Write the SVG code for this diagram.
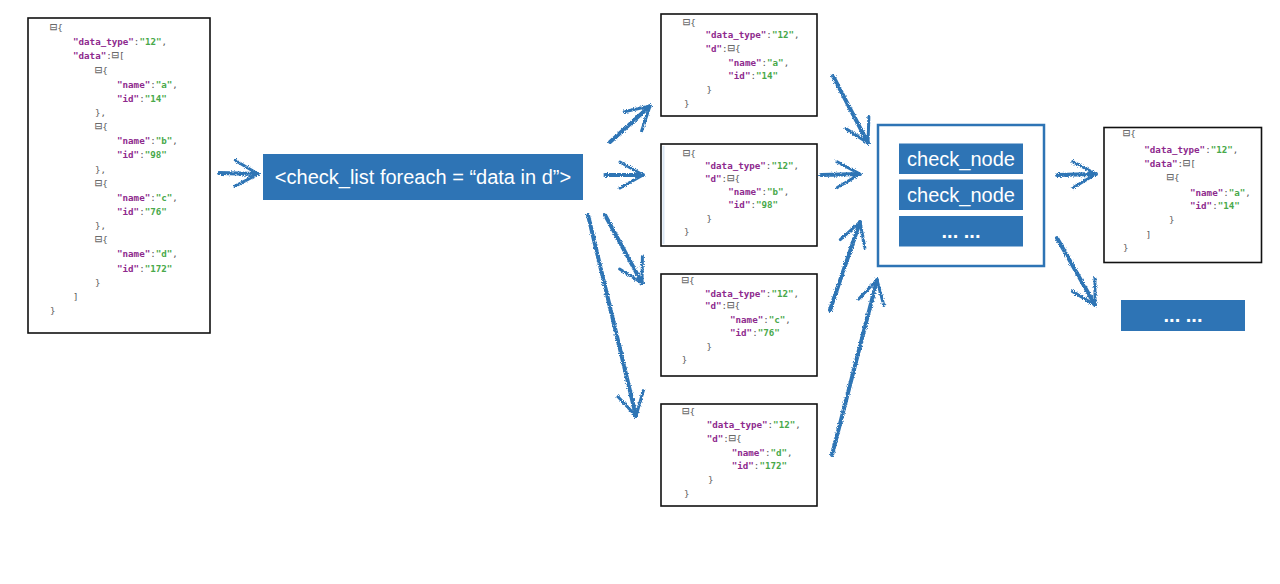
<svg xmlns="http://www.w3.org/2000/svg" width="1280" height="584" viewBox="0 0 1280 584">
<style>
.json{font-family:"DejaVu Sans Mono","Liberation Mono",monospace;font-size:9.2px;fill:#5a5a5a}
.k{fill:#8e2a8e;font-weight:bold}
.v{fill:#49a94b;font-weight:bold}
.m{font-size:12px;fill:#6a6a6a}
.doc{fill:#fff;stroke:#111;stroke-width:1.6}
.blue{fill:#2e74b5}
.lbl{font-family:"Liberation Sans",Arial,sans-serif;font-size:20px;fill:#fff;text-anchor:middle}
.con line{stroke:#2e74b5;stroke-width:4;fill:none;marker-end:url(#ah);stroke-linecap:round}
</style>
<defs>
<marker id="ah" markerUnits="userSpaceOnUse" viewBox="-28 -16 32 32" markerWidth="32" markerHeight="32" refX="0" refY="0" orient="auto">
<path d="M -23 -13 L 0 0 L -23 13" fill="none" stroke="#2e74b5" stroke-width="3" stroke-linecap="round" stroke-linejoin="round"/>
</marker>
<filter id="rough" filterUnits="userSpaceOnUse" x="0" y="0" width="1280" height="584">
<feTurbulence type="fractalNoise" baseFrequency="0.9" numOctaves="2" result="n"/>
<feDisplacementMap in="SourceGraphic" in2="n" scale="3.5" xChannelSelector="R" yChannelSelector="G"/>
</filter>
</defs>
<rect width="1280" height="584" fill="#fff"/>

<g id="src">
<rect class="doc" x="28" y="18" width="182" height="315"/>
<g class="json">
<text x="50" y="31"><tspan class="m">⊟</tspan>{</text>
<text x="73" y="45.2"><tspan class="k">"data_type"</tspan>:<tspan class="v">"12"</tspan>,</text>
<text x="73" y="59.3"><tspan class="k">"data"</tspan>:<tspan class="m">⊟</tspan>[</text>
<text x="95" y="73.5"><tspan class="m">⊟</tspan>{</text>
<text x="117" y="87.6"><tspan class="k">"name"</tspan>:<tspan class="v">"a"</tspan>,</text>
<text x="117" y="101.8"><tspan class="k">"id"</tspan>:<tspan class="v">"14"</tspan></text>
<text x="95" y="115.9">},</text>
<text x="95" y="130.1"><tspan class="m">⊟</tspan>{</text>
<text x="117" y="144.2"><tspan class="k">"name"</tspan>:<tspan class="v">"b"</tspan>,</text>
<text x="117" y="158.4"><tspan class="k">"id"</tspan>:<tspan class="v">"98"</tspan></text>
<text x="95" y="172.5">},</text>
<text x="95" y="186.7"><tspan class="m">⊟</tspan>{</text>
<text x="117" y="200.8"><tspan class="k">"name"</tspan>:<tspan class="v">"c"</tspan>,</text>
<text x="117" y="215"><tspan class="k">"id"</tspan>:<tspan class="v">"76"</tspan></text>
<text x="95" y="229.1">},</text>
<text x="95" y="243.3"><tspan class="m">⊟</tspan>{</text>
<text x="117" y="257.4"><tspan class="k">"name"</tspan>:<tspan class="v">"d"</tspan>,</text>
<text x="117" y="271.6"><tspan class="k">"id"</tspan>:<tspan class="v">"172"</tspan></text>
<text x="95" y="285.7">}</text>
<text x="73" y="299.9">]</text>
<text x="50" y="314">}</text>
</g>
</g>

<g id="foreach">
<rect class="blue" x="263" y="154" width="320" height="46"/>
<text class="lbl" x="423" y="184">&lt;check_list foreach = “data in d”&gt;</text>
</g>

<g id="item-a">
<rect class="doc" x="661" y="14" width="156" height="102"/>
<g class="json">
<text x="683" y="25.5"><tspan class="m">⊟</tspan>{</text>
<text x="705.5" y="38.3"><tspan class="k">"data_type"</tspan>:<tspan class="v">"12"</tspan>,</text>
<text x="705.5" y="52"><tspan class="k">"d"</tspan>:<tspan class="m">⊟</tspan>{</text>
<text x="728.3" y="65.7"><tspan class="k">"name"</tspan>:<tspan class="v">"a"</tspan>,</text>
<text x="728.3" y="79.3"><tspan class="k">"id"</tspan>:<tspan class="v">"14"</tspan></text>
<text x="706.5" y="93">}</text>
<text x="684" y="106.8">}</text>
</g>
</g>

<g id="item-b">
<rect class="doc" x="661" y="144" width="156" height="102"/>
<line x1="663.5" y1="146" x2="663.5" y2="244" stroke="#dbe7f4" stroke-width="2"/>
<g class="json">
<text x="683" y="157"><tspan class="m">⊟</tspan>{</text>
<text x="705" y="168.5"><tspan class="k">"data_type"</tspan>:<tspan class="v">"12"</tspan>,</text>
<text x="705" y="181.5"><tspan class="k">"d"</tspan>:<tspan class="m">⊟</tspan>{</text>
<text x="728.3" y="195"><tspan class="k">"name"</tspan>:<tspan class="v">"b"</tspan>,</text>
<text x="728.3" y="208.3"><tspan class="k">"id"</tspan>:<tspan class="v">"98"</tspan></text>
<text x="706.5" y="221.5">}</text>
<text x="684" y="235">}</text>
</g>
</g>

<g id="item-c">
<rect class="doc" x="661" y="274" width="156" height="102"/>
<g class="json">
<text x="681.7" y="283.5"><tspan class="m">⊟</tspan>{</text>
<text x="705" y="296.5"><tspan class="k">"data_type"</tspan>:<tspan class="v">"12"</tspan>,</text>
<text x="705" y="309.3"><tspan class="k">"d"</tspan>:<tspan class="m">⊟</tspan>{</text>
<text x="730" y="323"><tspan class="k">"name"</tspan>:<tspan class="v">"c"</tspan>,</text>
<text x="730" y="336"><tspan class="k">"id"</tspan>:<tspan class="v">"76"</tspan></text>
<text x="706.5" y="350">}</text>
<text x="681.7" y="362.5">}</text>
</g>
</g>

<g id="item-d">
<rect class="doc" x="661" y="404" width="156" height="102"/>
<g class="json">
<text x="682.3" y="415"><tspan class="m">⊟</tspan>{</text>
<text x="706.7" y="428.3"><tspan class="k">"data_type"</tspan>:<tspan class="v">"12"</tspan>,</text>
<text x="706.7" y="441.5"><tspan class="k">"d"</tspan>:<tspan class="m">⊟</tspan>{</text>
<text x="731.7" y="456"><tspan class="k">"name"</tspan>:<tspan class="v">"d"</tspan>,</text>
<text x="731.7" y="469.3"><tspan class="k">"id"</tspan>:<tspan class="v">"172"</tspan></text>
<text x="708" y="483.3">}</text>
<text x="684" y="497.3">}</text>
</g>
</g>

<g id="check">
<rect x="878" y="125" width="166" height="141" fill="#fff" stroke="#2e74b5" stroke-width="2.5"/>
<rect class="blue" x="899" y="143.5" width="124" height="30.5"/>
<text class="lbl" x="961" y="166">check_node</text>
<rect class="blue" x="899" y="179.5" width="124" height="30.5"/>
<text class="lbl" x="961" y="202">check_node</text>
<rect class="blue" x="899" y="216" width="124" height="30.5"/>
<text class="lbl" x="961" y="238" font-weight="bold" font-size="18">... ...</text>
</g>

<g id="result">
<rect class="doc" x="1104" y="127.5" width="157.5" height="135"/>
<g class="json">
<text x="1123" y="137"><tspan class="m">⊟</tspan>{</text>
<text x="1144.3" y="153"><tspan class="k">"data_type"</tspan>:<tspan class="v">"12"</tspan>,</text>
<text x="1144.3" y="167"><tspan class="k">"data"</tspan>:<tspan class="m">⊟</tspan>[</text>
<text x="1166.7" y="181.3"><tspan class="m">⊟</tspan>{</text>
<text x="1190" y="195.7"><tspan class="k">"name"</tspan>:<tspan class="v">"a"</tspan>,</text>
<text x="1190" y="209"><tspan class="k">"id"</tspan>:<tspan class="v">"14"</tspan></text>
<text x="1169" y="223">}</text>
<text x="1145.7" y="238">]</text>
<text x="1123" y="251.3">}</text>
</g>
</g>

<g id="more">
<rect class="blue" x="1121" y="300" width="124" height="31"/>
<text class="lbl" x="1183" y="322" font-weight="bold" font-size="18">... ...</text>
</g>

<g id="connectors" class="con" filter="url(#rough)">
<line x1="219" y1="173" x2="258" y2="174"/>
<line x1="610" y1="142" x2="650" y2="106"/>
<line x1="605" y1="175" x2="643" y2="175"/>
<line x1="605" y1="215" x2="642" y2="283"/>
<line x1="588" y1="215" x2="636" y2="416"/>
<line x1="833" y1="76" x2="868" y2="143"/>
<line x1="821" y1="175" x2="860" y2="174"/>
<line x1="830" y1="310" x2="860" y2="222"/>
<line x1="832" y1="455" x2="877" y2="280"/>
<line x1="1057" y1="175" x2="1096" y2="174"/>
<line x1="1057" y1="238" x2="1095" y2="305"/>
</g>
</svg>
